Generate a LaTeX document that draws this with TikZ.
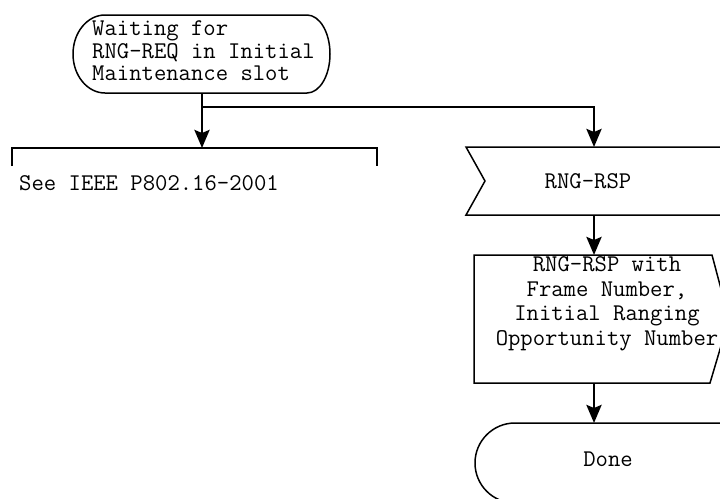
\documentclass[tikz,border=0pt]{standalone}
\usetikzlibrary{arrows.meta}

\begin{document}
\begin{tikzpicture}[x=1pt,y=-1pt,
    outline/.style={line width=1.5pt},
    flow/.style={line width=2.8pt,-{Stealth[length=18pt,width=15pt,inset=3pt]}},
    txt/.style={font=\ttfamily\fontsize{24}{22.5}\selectfont,inner sep=0pt}]
  \useasboundingbox (0,0) rectangle (720,498);
  \clip (0,0) rectangle (720,498);
  % start state
  \draw[outline] (105,15) -- (307,15) arc[start angle=-90,end angle=90,x radius=23,y radius=39]
    -- (105,93) arc[start angle=90,end angle=270,x radius=32,y radius=39] -- cycle;
  \node[txt,align=left,anchor=west] (wait) at (92,51) {Waiting for\\RNG-REQ in Initial\\Maintenance slot};
  % comment bracket
  \draw[outline] (12,166) -- (12,148) -- (377,148) -- (377,166);
  \node[txt,anchor=west] (see) at (19,183) {See IEEE P802.16-2001};
  % input signal
  \draw[outline] (760,147) -- (466,147) -- (485,181) -- (466,215) -- (760,215);
  \node[txt] (rsp) at (588,181) {RNG-RSP};
  % output signal
  \draw[outline] (474,255) -- (712,255) -- (729,319) -- (710,383) -- (474,383) -- cycle;
  \node[txt,align=center,font=\ttfamily\fontsize{24}{24.5}\selectfont] (info) at (607,304)
    {RNG-RSP with\\Frame Number,\\Initial Ranging\\Opportunity Number};
  % stop
  \draw[outline] (760,423) -- (515,423) arc[start angle=270,end angle=90,radius=40] -- (760,503);
  \node[txt] (done) at (608,459) {Done};
  % connectors
  \coordinate (wait out) at (202,93);
  \coordinate (split) at (202,107);
  \coordinate (see in) at (202,148);
  \coordinate (rsp in) at (594,147);
  \coordinate (rsp out) at (594,215);
  \coordinate (info in) at (594,255);
  \coordinate (info out) at (594,383);
  \coordinate (done in) at (594,423);
  \draw[flow] (wait out) -- (see in);
  \draw[flow] (split) -| (rsp in);
  \draw[flow] (rsp out) -- (info in);
  \draw[flow] (info out) -- (done in);
\end{tikzpicture}
\end{document}
